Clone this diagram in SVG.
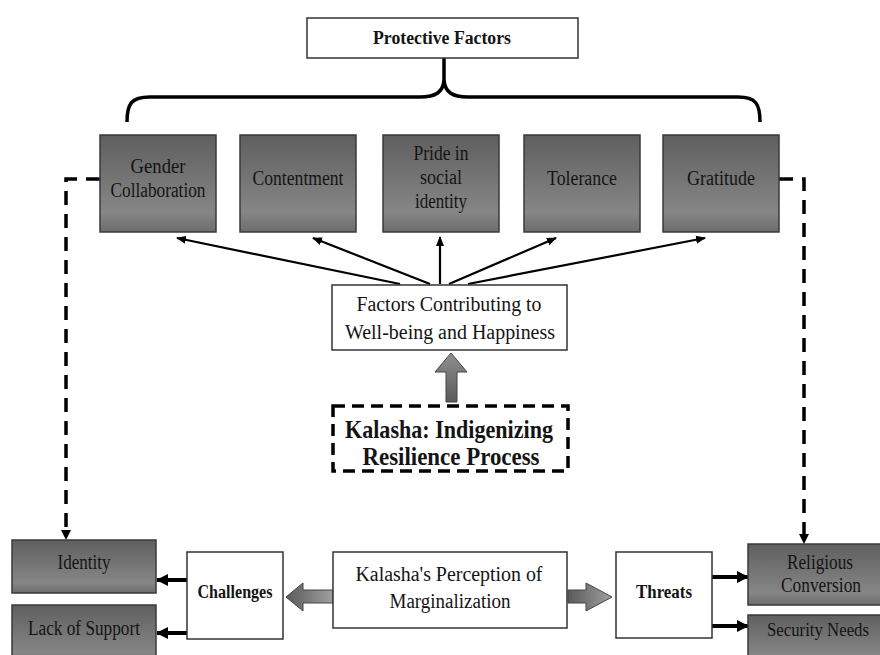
<svg xmlns="http://www.w3.org/2000/svg" width="880" height="655" viewBox="0 0 880 655">
<defs>
<linearGradient id="g" x1="0" y1="0" x2="0" y2="1">
<stop offset="0" stop-color="#5f5f5f"/>
<stop offset="0.8" stop-color="#868686"/>
<stop offset="1" stop-color="#6c6c6c"/>
</linearGradient>
<linearGradient id="ga" x1="0" y1="0" x2="1" y2="0">
<stop offset="0" stop-color="#5a5a5a"/>
<stop offset="1" stop-color="#a0a0a0"/>
</linearGradient>
<linearGradient id="gv" x1="0" y1="1" x2="0" y2="0">
<stop offset="0" stop-color="#5a5a5a"/>
<stop offset="1" stop-color="#909090"/>
</linearGradient>
<marker id="ah" markerWidth="10" markerHeight="10" refX="9" refY="5" orient="auto" markerUnits="userSpaceOnUse">
<path d="M0,1 L10,5 L0,9 Z" fill="#000"/>
</marker>
<marker id="ahb" markerWidth="12" markerHeight="12" refX="11" refY="6" orient="auto" markerUnits="userSpaceOnUse">
<path d="M0,0 L12,6 L0,12 Z" fill="#000"/>
</marker>
</defs>
<style>
text{font-family:"Liberation Serif","DejaVu Serif",serif;fill:#141414;text-anchor:middle;}
.t{font-size:20px;}
.b{font-size:18px;font-weight:bold;}
.big{font-size:25px;font-weight:bold;}
.gb{fill:url(#g);stroke:#3a3a3a;stroke-width:1.5;}
.wb{fill:#fff;stroke:#333;stroke-width:1.5;}
.ar{stroke:#000;stroke-width:2.2;fill:none;marker-end:url(#ah);}
.arb{stroke:#000;stroke-width:4;fill:none;marker-end:url(#ahb);}
.da{stroke:#000;stroke-width:3.5;fill:none;stroke-dasharray:14,9;}
</style>
<rect width="880" height="655" fill="#fff"/>

<g id="connectors">
<path d="M127,122 C127,104 131,97 150,97 L420,97 C436,97 443,92 444,80 L444,58 M444,80 C445,92 452,97 468,97 L738,97 C756,97 760,104 760,122" fill="none" stroke="#000" stroke-width="3.5"/>
<line class="ar" x1="400" y1="284" x2="177" y2="238"/>
<line class="ar" x1="430" y1="284" x2="313" y2="238"/>
<line class="ar" x1="440" y1="284" x2="440" y2="237"/>
<line class="ar" x1="449" y1="284" x2="556" y2="238"/>
<line class="ar" x1="468" y1="284" x2="705" y2="238"/>
<path class="da" d="M100,179 L66,179 L66,530"/>
<path d="M61,530 L71,530 L66,540 Z" fill="#000"/>
<path class="da" d="M779,179 L804,179 L804,534"/>
<path d="M799,534 L809,534 L804,544 Z" fill="#000"/>
<polygon points="446,402 446,372 435,372 451,353 467,372 457,372 457,402" fill="url(#gv)" stroke="#444" stroke-width="1"/>
<polygon points="333,590 303,590 303,583 286,597 303,611 303,603 333,603" fill="url(#ga)" stroke="#444" stroke-width="1"/>
<polygon points="568,590 586,590 586,583 612,597 586,611 586,603 568,603" fill="url(#ga)" stroke="#444" stroke-width="1"/>
<line class="arb" x1="187" y1="580" x2="157" y2="580"/>
<line class="arb" x1="187" y1="633" x2="157" y2="633"/>
<line class="arb" x1="712" y1="577" x2="748" y2="577"/>
<line class="arb" x1="712" y1="626" x2="748" y2="626"/>
</g>

<g id="protective-factors">
<rect class="wb" x="307" y="18" width="271" height="40"/>
<text class="b" x="442" y="44" textLength="138" lengthAdjust="spacingAndGlyphs">Protective Factors</text>
</g>

<g id="gender-collaboration">
<rect class="gb" x="100" y="135" width="116" height="97"/>
<text class="t" x="158" y="173" textLength="55" lengthAdjust="spacingAndGlyphs">Gender</text>
<text class="t" x="158" y="197" textLength="95" lengthAdjust="spacingAndGlyphs">Collaboration</text>
</g>

<g id="contentment">
<rect class="gb" x="240" y="135" width="116" height="97"/>
<text class="t" x="298" y="185" textLength="91" lengthAdjust="spacingAndGlyphs">Contentment</text>
</g>

<g id="pride">
<rect class="gb" x="383" y="135" width="116" height="97"/>
<text class="t" x="441" y="160" textLength="55" lengthAdjust="spacingAndGlyphs">Pride in</text>
<text class="t" x="441" y="184" textLength="42" lengthAdjust="spacingAndGlyphs">social</text>
<text class="t" x="441" y="208" textLength="52" lengthAdjust="spacingAndGlyphs">identity</text>
</g>

<g id="tolerance">
<rect class="gb" x="524" y="135" width="116" height="97"/>
<text class="t" x="582" y="185" textLength="70" lengthAdjust="spacingAndGlyphs">Tolerance</text>
</g>

<g id="gratitude">
<rect class="gb" x="663" y="135" width="116" height="97"/>
<text class="t" x="721" y="185" textLength="68" lengthAdjust="spacingAndGlyphs">Gratitude</text>
</g>

<g id="factors-contributing">
<rect class="wb" x="332" y="285" width="235" height="65"/>
<text class="t" x="449" y="311" textLength="185" lengthAdjust="spacingAndGlyphs">Factors Contributing to</text>
<text class="t" x="450" y="339" textLength="210" lengthAdjust="spacingAndGlyphs">Well-being and Happiness</text>
</g>

<g id="kalasha-resilience">
<rect x="333" y="406" width="235" height="65" fill="#fff" stroke="#000" stroke-width="3.5" stroke-dasharray="12,7"/>
<text class="big" x="449" y="438" textLength="208" lengthAdjust="spacingAndGlyphs">Kalasha: Indigenizing</text>
<text class="big" x="451" y="465" textLength="177" lengthAdjust="spacingAndGlyphs">Resilience Process</text>
</g>

<g id="identity">
<rect class="gb" x="12" y="540" width="144" height="53"/>
<text class="t" x="84" y="569" textLength="53" lengthAdjust="spacingAndGlyphs">Identity</text>
</g>

<g id="lack-of-support">
<rect class="gb" x="12" y="605" width="144" height="60"/>
<text class="t" x="84" y="635" textLength="112" lengthAdjust="spacingAndGlyphs">Lack of Support</text>
</g>

<g id="challenges">
<rect class="wb" x="187" y="552" width="96" height="87"/>
<text class="b" x="235" y="598" textLength="75" lengthAdjust="spacingAndGlyphs">Challenges</text>
</g>

<g id="perception">
<rect class="wb" x="333" y="552" width="234" height="76"/>
<text class="t" x="449" y="581" textLength="187" lengthAdjust="spacingAndGlyphs">Kalasha's Perception of</text>
<text class="t" x="450" y="608" textLength="121" lengthAdjust="spacingAndGlyphs">Marginalization</text>
</g>

<g id="threats">
<rect class="wb" x="616" y="552" width="96" height="86"/>
<text class="b" x="664" y="598" textLength="56" lengthAdjust="spacingAndGlyphs">Threats</text>
</g>

<g id="religious-conversion">
<rect class="gb" x="748" y="544" width="140" height="61"/>
<text class="t" x="820" y="569" textLength="66" lengthAdjust="spacingAndGlyphs">Religious</text>
<text class="t" x="821" y="592" textLength="80" lengthAdjust="spacingAndGlyphs">Conversion</text>
</g>

<g id="security-needs">
<rect class="gb" x="748" y="615" width="140" height="50"/>
<text x="818" y="636" font-size="18" textLength="102" lengthAdjust="spacingAndGlyphs">Security Needs</text>
</g>
</svg>
